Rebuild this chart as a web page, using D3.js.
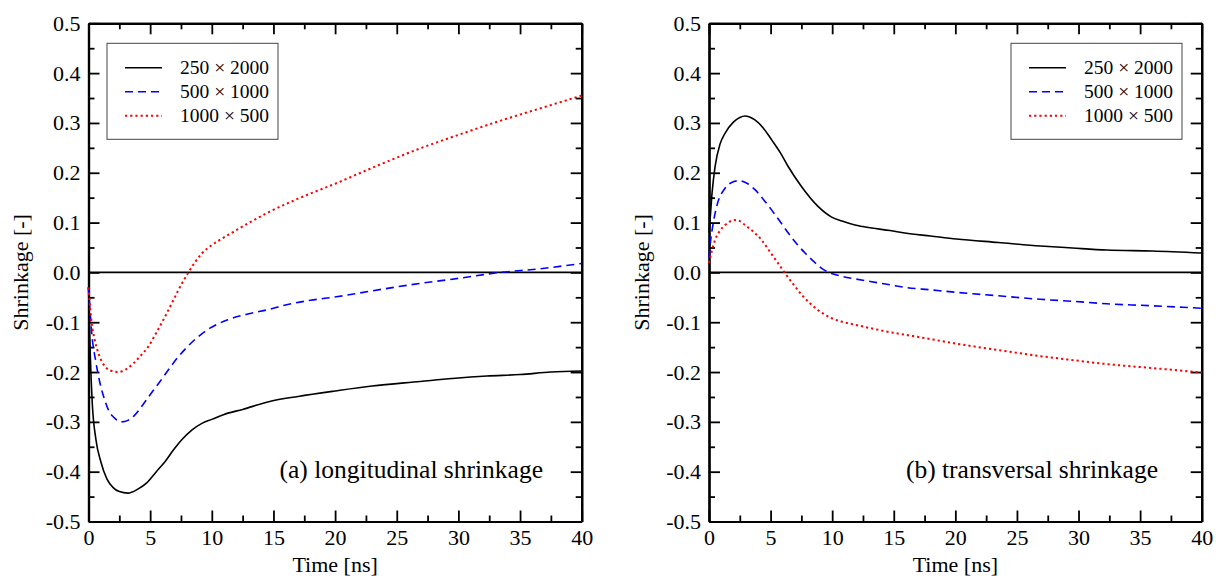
<!DOCTYPE html>
<html>
<head>
<meta charset="utf-8">
<script src="https://cdn.jsdelivr.net/npm/d3@7"></script>
<style>
  body { margin: 0; background: #fff; }
  svg { display: block; font-family: "Liberation Serif", "DejaVu Serif", serif; }
  .axis path, .axis line { stroke: #000; }
</style>
</head>
<body>
<div id="chart"></div>
<script>
"use strict";

/* series labels */
var seriesNames = ["250 \u00d7 2000", "500 \u00d7 1000", "1000 \u00d7 500"];

/* axis ticks */
var xTicks = [0, 5, 10, 15, 20, 25, 30, 35, 40];
var yTicks = [-0.5, -0.4, -0.3, -0.2, -0.1, 0, 0.1, 0.2, 0.3, 0.4, 0.5];

/* (a) longitudinal shrinkage, [time ns, shrinkage] */
var long250x2000 = [[0,-0.03],[0.15,-0.17],[0.3,-0.26],[0.6,-0.335],[1,-0.38],[1.5,-0.415],[2,-0.432],[2.5,-0.44],[3.2,-0.443],[4,-0.435],[4.7,-0.423],[5.5,-0.4],[6.2,-0.38],[6.9,-0.356],[7.6,-0.335],[8.4,-0.316],[9.2,-0.303],[10,-0.295],[11,-0.285],[12.5,-0.275],[14.7,-0.259],[17,-0.249],[20,-0.238],[23,-0.228],[26.9,-0.219],[29.5,-0.213],[32.3,-0.208],[35,-0.205],[37.5,-0.2],[40,-0.198]];
var long500x1000 = [[0,-0.03],[0.26,-0.122],[0.6,-0.18],[0.93,-0.222],[1.3,-0.255],[1.61,-0.276],[2.1,-0.292],[2.69,-0.3],[3.2,-0.297],[3.77,-0.286],[4.4,-0.266],[5.1,-0.242],[5.8,-0.219],[6.47,-0.196],[7.1,-0.175],[7.8,-0.155],[8.9,-0.129],[9.85,-0.112],[11.3,-0.095],[13.2,-0.082],[14.7,-0.074],[15.9,-0.066],[18,-0.056],[20.1,-0.049],[23,-0.037],[26.9,-0.022],[30,-0.012],[33.4,0],[36.5,0.007],[40,0.018]];
var long1000x500 = [[0,-0.03],[0.26,-0.102],[0.5,-0.135],[0.8,-0.162],[1.34,-0.189],[1.9,-0.198],[2.42,-0.2],[3,-0.195],[3.5,-0.186],[4.2,-0.168],[4.85,-0.149],[5.5,-0.121],[6.2,-0.089],[6.8,-0.06],[7.3,-0.035],[8.1,0],[9.2,0.038],[10,0.055],[10.5,0.063],[12,0.085],[14.7,0.122],[17,0.148],[20.1,0.179],[23.5,0.215],[26.9,0.249],[30,0.276],[33.6,0.306],[37,0.332],[40,0.355]];

/* (b) transversal shrinkage */
var trans250x2000 = [[0,0.08],[0.1,0.11],[0.25,0.16],[0.49,0.212],[0.9,0.258],[1.3,0.279],[2,0.302],[2.5,0.311],[2.92,0.314],[3.3,0.312],[3.73,0.306],[4.4,0.29],[5.09,0.266],[5.8,0.24],[6.44,0.212],[7.52,0.172],[8.87,0.132],[9.96,0.111],[10.8,0.103],[11.85,0.095],[13.2,0.089],[14.7,0.084],[15.9,0.079],[18,0.073],[20.1,0.067],[23.5,0.06],[26.9,0.053],[29.5,0.049],[32.3,0.045],[36,0.043],[40,0.039]];
var trans500x1000 = [[0,0.03],[0.08,0.052],[0.35,0.1],[0.62,0.132],[1.3,0.169],[1.8,0.18],[2.38,0.184],[3,0.18],[3.73,0.166],[4.4,0.147],[5.09,0.125],[5.8,0.101],[6.44,0.079],[7.1,0.058],[7.8,0.039],[8.5,0.022],[9.15,0.008],[9.96,-0.002],[10.8,-0.008],[11.85,-0.013],[13.5,-0.02],[14.7,-0.025],[15.9,-0.03],[18,-0.035],[20.1,-0.04],[23.5,-0.047],[26.9,-0.054],[29.5,-0.058],[32.3,-0.063],[36,-0.067],[40,-0.072]];
var trans1000x500 = [[0,0.019],[0.49,0.065],[0.9,0.084],[1.3,0.095],[2.1,0.105],[2.5,0.103],[2.92,0.095],[3.6,0.082],[4.27,0.065],[4.9,0.043],[5.62,0.018],[6.3,-0.006],[6.98,-0.028],[7.6,-0.047],[8.33,-0.065],[9.1,-0.08],[9.96,-0.092],[10.8,-0.099],[11.85,-0.105],[13.5,-0.114],[14.7,-0.12],[15.9,-0.125],[18,-0.134],[20.1,-0.143],[23.5,-0.156],[26.9,-0.168],[29.5,-0.176],[32.3,-0.184],[36,-0.192],[40,-0.201]];

var styles = [
  {color: "#000", dash: null, width: 1.6},
  {color: "#0000ff", dash: "8,5", width: 1.6},
  {color: "#ff0000", dash: "2.2,3", width: 2}
];

var W = 1216, H = 578;
var svg = d3.select("#chart").append("svg")
  .attr("width", W)
  .attr("height", H);

var panels = [
  {left: 88.5, right: 581.7, series: [long250x2000, long500x1000, long1000x500],
   label: "(a) longitudinal shrinkage", labelX: 543, legendX: 107, titleX: 20},
  {left: 709, right: 1201.7, series: [trans250x2000, trans500x1000, trans1000x500],
   label: "(b) transversal shrinkage", labelX: 1158, legendX: 1011, titleX: 641}
];
var plotTop = 23.3, plotBottom = 521.5;

// plain hyphen for negatives, like the original
var yFormat = function(d) {
  return d3.format(".1f")(d).replace("\u2212", "-");
};

panels.forEach(function(p) {
  var x = d3.scaleLinear().domain([0, 40]).range([p.left, p.right]);
  var y = d3.scaleLinear().domain([-0.5, 0.5]).range([plotBottom, plotTop]);
  var g = svg.append("g");

  var xMinor = d3.range(0, 41, 2.5).filter(function(d) { return d % 5 !== 0; });
  var yMinor = d3.range(-0.45, 0.5, 0.1).map(function(d) { return Math.round(d*100)/100; });

  // minor ticks
  g.append("g").attr("class","axis").attr("transform","translate(0," + plotBottom + ")")
    .call(d3.axisBottom(x).tickValues(xMinor).tickSize(-6).tickSizeOuter(0).tickFormat(""));
  g.append("g").attr("class","axis").attr("transform","translate(0," + plotTop + ")")
    .call(d3.axisTop(x).tickValues(xMinor).tickSize(-6).tickSizeOuter(0).tickFormat(""));
  g.append("g").attr("class","axis").attr("transform","translate(" + p.left + ",0)")
    .call(d3.axisLeft(y).tickValues(yMinor).tickSize(-6).tickSizeOuter(0).tickFormat(""));
  g.append("g").attr("class","axis").attr("transform","translate(" + p.right + ",0)")
    .call(d3.axisRight(y).tickValues(yMinor).tickSize(-6).tickSizeOuter(0).tickFormat(""));

  // major ticks
  g.append("g").attr("class","axis").attr("transform","translate(0," + plotBottom + ")")
    .call(d3.axisBottom(x).tickValues(xTicks).tickSize(-11).tickSizeOuter(0).tickPadding(8)
      .tickFormat(d3.format("d")));
  g.append("g").attr("class","axis").attr("transform","translate(0," + plotTop + ")")
    .call(d3.axisTop(x).tickValues(xTicks).tickSize(-11).tickSizeOuter(0).tickFormat(""));
  g.append("g").attr("class","axis").attr("transform","translate(" + p.left + ",0)")
    .call(d3.axisLeft(y).tickValues(yTicks).tickSize(-11).tickSizeOuter(0).tickPadding(8)
      .tickFormat(yFormat));
  g.append("g").attr("class","axis").attr("transform","translate(" + p.right + ",0)")
    .call(d3.axisRight(y).tickValues(yTicks).tickSize(-11).tickSizeOuter(0).tickFormat(""));

  g.selectAll(".axis")
    .attr("font-family", "Liberation Serif");
  g.selectAll(".axis text")
    .attr("font-size", 22)
    .attr("fill", "#000");
  g.selectAll(".axis line").attr("stroke-width", 1.8);
  g.selectAll(".axis path").attr("stroke-width", 2.2);

  // zero line
  g.append("line")
    .attr("x1", x(0)).attr("x2", x(40))
    .attr("y1", y(0)).attr("y2", y(0))
    .attr("stroke", "#000")
    .attr("stroke-width", 1.6);

  var line = d3.line()
    .x(function(d) { return x(d[0]); })
    .y(function(d) { return y(d[1]); })
    .curve(d3.curveMonotoneX);

  p.series.forEach(function(s, i) {
    g.append("path")
      .datum(s)
      .attr("d", line)
      .attr("fill", "none")
      .attr("stroke", styles[i].color)
      .attr("stroke-width", styles[i].width)
      .attr("stroke-dasharray", styles[i].dash);
  });

  // legend
  var lg = g.append("g").attr("transform", "translate(" + p.legendX + ",43.3)");
  lg.append("rect")
    .attr("width", 171)
    .attr("height", 96)
    .attr("fill", "#fff")
    .attr("stroke", "#444")
    .attr("stroke-width", 1);
  seriesNames.forEach(function(name, i) {
    var ly = 24.5 + i*24;
    lg.append("line")
      .attr("x1", 18).attr("x2", 55)
      .attr("y1", ly).attr("y2", ly)
      .attr("stroke", styles[i].color)
      .attr("stroke-width", styles[i].width)
      .attr("stroke-dasharray", styles[i].dash);
    lg.append("text")
      .attr("x", 73)
      .attr("y", ly + 6.5)
      .attr("font-size", 19.5)
      .attr("fill", "#000")
      .text(name);
  });

  // panel label
  g.append("text")
    .attr("x", p.labelX)
    .attr("y", 478)
    .attr("text-anchor", "end")
    .attr("font-size", 25.5)
    .attr("fill", "#000")
    .text(p.label);

  // axis titles
  g.append("text")
    .attr("x", (p.left + p.right)/2)
    .attr("y", 572)
    .attr("text-anchor", "middle")
    .attr("font-size", 22)
    .attr("fill", "#000")
    .text("Time [ns]");
  g.append("text")
    .attr("transform", "translate(" + p.titleX + "," + ((plotTop + plotBottom)/2) + ") rotate(-90)")
    .attr("text-anchor", "middle")
    .attr("dy", "0.35em")
    .attr("font-size", 22)
    .attr("fill", "#000")
    .text("Shrinkage [-]");
});
</script>
</body>
</html>
